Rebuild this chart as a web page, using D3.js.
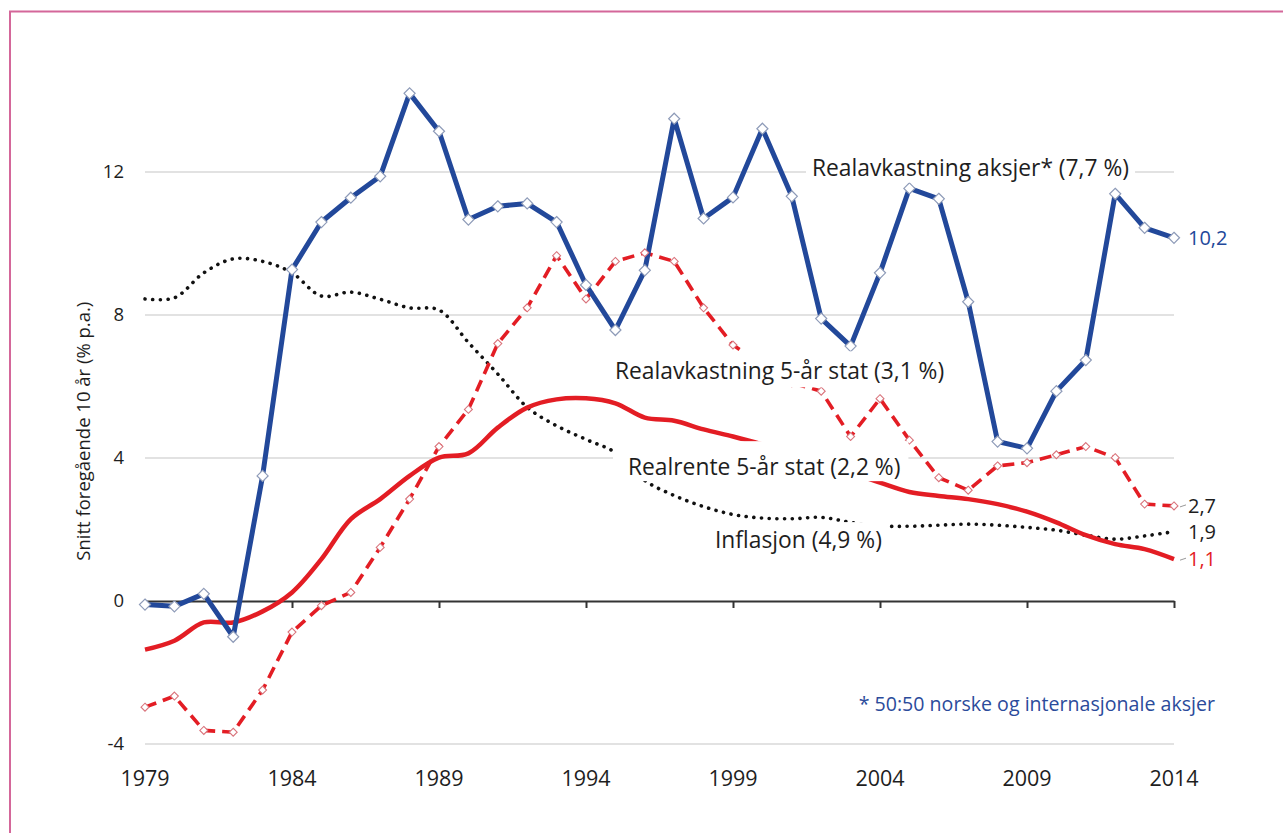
<!DOCTYPE html>
<html>
<head>
<meta charset="utf-8">
<script src="https://cdn.jsdelivr.net/npm/d3@7"></script>
<style>
  body { margin: 0; background: #fff; }
  svg { display: block; font-family: "Open Sans", sans-serif; }
</style>
</head>
<body>
<div id="chart"></div>
<script>
// data
const years = d3.range(1979, 2015);

// Realavkastning aksjer* (7,7 %)
const aksjer = [-0.1, -0.15, 0.2, -1.0, 3.5, 9.27, 10.6, 11.28, 11.88, 14.2,
  13.14, 10.67, 11.04, 11.12, 10.6, 8.84, 7.58, 9.25, 13.49, 10.7,
  11.29, 13.21, 11.32, 7.9, 7.13, 9.18, 11.54, 11.25, 8.37, 4.46,
  4.27, 5.87, 6.74, 11.39, 10.44, 10.16];

// Realavkastning 5-år stat (3,1 %)
const avkStat = [-2.97, -2.66, -3.62, -3.67, -2.49, -0.87, -0.13, 0.24, 1.5, 2.85,
  4.32, 5.36, 7.2, 8.2, 9.66, 8.45, 9.5, 9.74, 9.5, 8.2,
  7.16, 6.6, 6.1, 5.87, 4.6, 5.66, 4.5, 3.45, 3.1, 3.78,
  3.87, 4.09, 4.32, 4.01, 2.71, 2.66];

// Realrente 5-år stat (2,2 %)
const realrente = [-1.36, -1.11, -0.6, -0.6, -0.29, 0.24, 1.17, 2.29, 2.85, 3.5,
  4.01, 4.13, 4.85, 5.41, 5.64, 5.67, 5.53, 5.13, 5.04, 4.8,
  4.6, 4.38, 4.15, 3.9, 3.6, 3.31, 3.05, 2.94, 2.85, 2.71,
  2.5, 2.2, 1.84, 1.59, 1.45, 1.17];

// Inflasjon (4,9 %)
const inflasjon = [8.45, 8.48, 9.18, 9.57, 9.5, 9.18, 8.53, 8.64, 8.44, 8.2,
  8.14, 7.23, 6.35, 5.42, 4.9, 4.52, 4.15, 3.37, 2.95, 2.64,
  2.42, 2.32, 2.3, 2.34, 2.2, 2.1, 2.09, 2.12, 2.15, 2.12,
  2.06, 1.98, 1.84, 1.73, 1.82, 1.94];

const yTicks = [-4, 0, 4, 8, 12];
const xTicks = [1979, 1984, 1989, 1994, 1999, 2004, 2009, 2014];

const endLabels = ["10,2", "2,7", "1,9", "1,1"];

const blue = "#22489a";
const red = "#e31d24";
const ink = "#1e1e1e";

const W = 1283, H = 833;

const svg = d3.select("#chart").append("svg")
  .attr("width", W)
  .attr("height", H);

// pink frame, top and left edges only
svg.append("line").attr("x1", 9).attr("x2", W).attr("y1", 11.5).attr("y2", 11.5)
  .attr("stroke", "#d4679a").attr("stroke-width", 2);
svg.append("line").attr("x1", 10).attr("x2", 10).attr("y1", 11).attr("y2", H)
  .attr("stroke", "#d4679a").attr("stroke-width", 2);

// scales
const x = d3.scaleLinear().domain([1979, 2014]).range([145, 1174]);
const y = d3.scaleLinear().domain([-4, 12]).range([744, 172]);

// gridlines
svg.append("g")
  .selectAll("line")
  .data(yTicks.filter(d => d !== 0))
  .join("line")
  .attr("x1", x(1979)).attr("x2", x(2014))
  .attr("y1", d => y(d)).attr("y2", d => y(d))
  .attr("stroke", "#d9d9d9").attr("stroke-width", 1.3);

// y tick labels
svg.append("g")
  .selectAll("text")
  .data(yTicks)
  .join("text")
  .attr("x", 124)
  .attr("y", d => y(d))
  .attr("dy", "0.35em")
  .attr("text-anchor", "end")
  .attr("font-size", 18.5)
  .attr("fill", ink)
  .text(d => d);

// zero axis with ticks below
const xAxis = d3.axisBottom(x)
  .tickValues(xTicks)
  .tickSize(7)
  .tickSizeOuter(0)
  .tickFormat("");

const axisG = svg.append("g")
  .attr("transform", "translate(0," + y(0) + ")")
  .call(xAxis);
axisG.select(".domain").attr("stroke", "#333").attr("stroke-width", 2);
axisG.selectAll(".tick line").attr("stroke", "#333").attr("stroke-width", 2);

// x tick labels at the bottom
svg.append("g")
  .selectAll("text")
  .data(xTicks)
  .join("text")
  .attr("x", d => x(d))
  .attr("y", 778)
  .attr("dy", "0.35em")
  .attr("text-anchor", "middle")
  .attr("font-size", 21.5)
  .attr("fill", ink)
  .text(d => d);

// y axis title
svg.append("text")
  .attr("transform", "translate(84," + y(4.75) + ") rotate(-90)")
  .attr("text-anchor", "middle")
  .attr("dy", "0.35em")
  .attr("font-size", 18.5)
  .attr("fill", ink)
  .text("Snitt foregående 10 år  (% p.a.)");

// line generators
const straight = d3.line()
  .x((d, i) => x(years[i]))
  .y(d => y(d));

const smooth = d3.line()
  .x((d, i) => x(years[i]))
  .y(d => y(d))
  .curve(d3.curveCatmullRom.alpha(0.5));

svg.append("path")
  .datum(inflasjon)
  .attr("d", smooth)
  .attr("fill", "none")
  .attr("stroke", "#111")
  .attr("stroke-width", 3.6)
  .attr("stroke-linecap", "round")
  .attr("stroke-dasharray", "0.1 7.6");

svg.append("path")
  .datum(realrente)
  .attr("d", smooth)
  .attr("fill", "none")
  .attr("stroke", red)
  .attr("stroke-width", 4.5)
  .attr("stroke-linejoin", "round");

svg.append("path")
  .datum(avkStat)
  .attr("d", straight)
  .attr("fill", "none")
  .attr("stroke", red)
  .attr("stroke-width", 3.6)
  .attr("stroke-dasharray", "12 7");

svg.append("path")
  .datum(aksjer)
  .attr("d", straight)
  .attr("fill", "none")
  .attr("stroke", blue)
  .attr("stroke-width", 5)
  .attr("stroke-linejoin", "round");

// diamond markers
const diamond = d3.symbol().type(d3.symbolDiamond2);

svg.append("g")
  .selectAll("path")
  .data(avkStat)
  .join("path")
  .attr("transform", (d, i) => "translate(" + x(years[i]) + "," + y(d) + ")")
  .attr("d", diamond.size(40)())
  .attr("fill", "#fff")
  .attr("stroke", "#d9737b")
  .attr("stroke-width", 1.1);

svg.append("g")
  .selectAll("path")
  .data(aksjer)
  .join("path")
  .attr("transform", (d, i) => "translate(" + x(years[i]) + "," + y(d) + ")")
  .attr("d", diamond.size(78)())
  .attr("fill", "#fff")
  .attr("stroke", "#8e9bb8")
  .attr("stroke-width", 1.2);

// series labels with white boxes that mask the lines beneath
// pad = [left, top, right, bottom] around the text baseline origin
const notes = [
  {text: "Realavkastning aksjer* (7,7 %)", yr: 1979 + (812 - 145) / 29.4, v: 11.9, pad: [6, 26, 6, 7]},
  {text: "Realavkastning 5-år stat (3,1 %)", yr: 1979 + (615 - 145) / 29.4, v: 6.2, pad: [5, 28, 6, 8]},
  {text: "Realrente 5-år stat (2,2 %)", yr: 1979 + (628 - 145) / 29.4, v: 3.52, pad: [15, 34, 8, 6]},
  {text: "Inflasjon (4,9 %)", yr: 1979 + (715 - 145) / 29.4, v: 1.48, pad: [10, 26, 6, 8]}
];

notes.forEach(n => {
  const g = svg.append("g")
    .attr("transform", "translate(" + x(n.yr) + "," + y(n.v) + ")");
  const rect = g.append("rect").attr("fill", "#fff");
  const t = g.append("text")
    .attr("font-size", 22.8)
    .attr("fill", ink)
    .text(n.text);
  const len = t.node().getComputedTextLength();
  rect.attr("x", -n.pad[0]).attr("y", -n.pad[1])
    .attr("width", len + n.pad[0] + n.pad[2])
    .attr("height", n.pad[1] + n.pad[3]);
});

// end-of-series values
const lastIdx = years.length - 1;
const ends = [
  {label: endLabels[0], v: aksjer[lastIdx], color: blue, leader: false},
  {label: endLabels[1], v: avkStat[lastIdx], color: ink, leader: true},
  {label: endLabels[2], v: inflasjon[lastIdx], color: ink, leader: false},
  {label: endLabels[3], v: realrente[lastIdx], color: red, leader: true}
];

ends.forEach(e => {
  const ly = y(e.v);
  if (e.leader) {
    svg.append("line")
      .attr("x1", x(2014) + 6).attr("x2", x(2014) + 12)
      .attr("y1", ly + 1).attr("y2", ly - 1)
      .attr("stroke", "#999").attr("stroke-width", 1);
  }
  svg.append("text")
    .attr("x", x(2014) + 14)
    .attr("y", ly)
    .attr("dy", "0.35em")
    .attr("font-size", 20)
    .attr("fill", e.color)
    .text(e.label);
});

// footnote
svg.append("text")
  .attr("x", 1215)
  .attr("y", 704)
  .attr("dy", "0.35em")
  .attr("text-anchor", "end")
  .attr("font-size", 19.6)
  .attr("fill", "#2b4b9b")
  .text("* 50:50 norske og internasjonale aksjer");
</script>
</body>
</html>
